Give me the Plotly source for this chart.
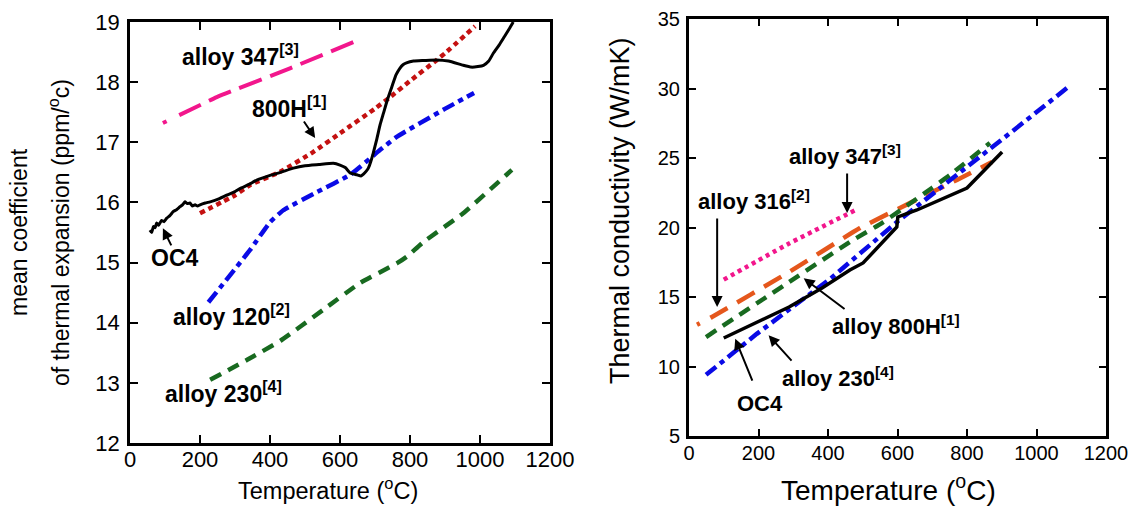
import plotly.graph_objects as go

W, H = 1135, 506
FONT = "Arial, Liberation Sans, sans-serif"

# ---- Mean coefficient of thermal expansion (ppm/°C) vs temperature ----
oc4_cte_t = [57, 62, 67, 72, 76, 82, 90, 97, 105, 114, 124, 133, 143, 150, 157, 164, 171, 178,
             186, 193, 200, 215, 229, 250, 276, 300, 314, 340, 362, 400, 430, 467, 500, 540,
             581, 600, 615, 629, 648, 660, 667, 675, 681, 688, 695, 705, 715, 724, 735, 748,
             760, 771, 780, 790, 810, 840, 876, 910, 952, 975, 994, 1010, 1025, 1038, 1055,
             1070, 1085, 1095]
oc4_cte = [15.54, 15.50, 15.60, 15.58, 15.66, 15.62, 15.70, 15.68, 15.74, 15.78, 15.85, 15.88,
           15.93, 15.96, 16.01, 15.98, 15.99, 15.94, 15.96, 15.94, 15.96, 15.99, 16.01, 16.05,
           16.12, 16.18, 16.23, 16.30, 16.37, 16.45, 16.50, 16.57, 16.61, 16.63, 16.65, 16.62,
           16.58, 16.49, 16.46, 16.44, 16.47, 16.52, 16.57, 16.68, 16.82, 17.05, 17.30, 17.48,
           17.70, 17.92, 18.12, 18.23, 18.29, 18.32, 18.35, 18.36, 18.37, 18.35, 18.28, 18.25,
           18.26, 18.28, 18.35, 18.48, 18.62, 18.76, 18.90, 19.00]

a800h_cte_t = [200, 300, 343, 429, 524, 600, 700, 743, 800, 877, 900, 986]
a800h_cte = [15.82, 16.12, 16.29, 16.51, 16.84, 17.15, 17.56, 17.75, 18.02, 18.37, 18.48, 18.93]

a347_cte_t = [94, 248, 457, 640]
a347_cte = [17.32, 17.75, 18.23, 18.67]

a120_cte_t = [224, 343, 400, 438, 533, 629, 714, 762, 895, 983]
a120_cte = [14.34, 15.21, 15.67, 15.87, 16.17, 16.46, 16.87, 17.09, 17.54, 17.82]

a230_cte_t = [229, 340, 430, 551, 657, 763, 791, 838, 952, 1091]
a230_cte = [13.05, 13.40, 13.70, 14.21, 14.66, 14.99, 15.10, 15.34, 15.82, 16.54]

# ---- Thermal conductivity (W/mK) vs temperature ----
oc4_k_t = [100, 193, 288, 383, 463, 501, 555, 598, 601, 656, 800, 901]
oc4_k = [12.05, 13.15, 14.28, 15.65, 16.94, 17.45, 18.88, 20.04, 20.76, 21.26, 22.84, 25.43]

a347_k_t = [100, 288, 483]
a347_k = [16.25, 18.85, 21.30]

a316_k_t = [23, 66, 288, 492, 665, 771, 872]
a316_k = [13.00, 13.56, 16.80, 19.96, 22.12, 23.42, 24.71]

a800h_k_t = [49, 288, 472, 555, 699, 751, 866]
a800h_k = [12.12, 16.08, 19.10, 20.32, 22.84, 23.78, 26.08]

a230_k_t = [49, 195, 406, 601, 904, 1088]
a230_k = [9.40, 12.35, 16.30, 20.45, 26.40, 30.04]

x_ticks = [0, 200, 400, 600, 800, 1000, 1200]
cte_ticks = [12, 13, 14, 15, 16, 17, 18, 19]
k_ticks = [5, 10, 15, 20, 25, 30, 35]

PINK = "#F2168C"
RED = "#C41010"
BLUE = "#0A0AE6"
GREEN = "#186A20"
ORANGE = "#E5571C"
BLACK = "#000000"


def dash_after_dot(dot, gap0, dash, gap, n):
    # a short lead-in dot followed by n long dashes
    return ",".join([f"{dot}px", f"{gap0}px"] + [f"{dash}px,{gap}px"] * n)


fig = go.Figure()


def add(xs, ys, color, dash, width, ax, shape="spline"):
    fig.add_trace(go.Scatter(
        x=xs, y=ys, mode="lines", xaxis="x" if ax == 1 else "x2",
        yaxis="y" if ax == 1 else "y2",
        line=dict(color=color, dash=dash, width=width, shape=shape,
                  **({"smoothing": 0.4} if shape == "spline" else {})),
        showlegend=False, hoverinfo="skip"))


# left panel
add(a347_cte_t, a347_cte, PINK, dash_after_dot(4, 14, 24, 9, 12), 4, 1)
add(a800h_cte_t, a800h_cte, RED, "5px,4px", 4.5, 1)
add(a120_cte_t, a120_cte, BLUE, "13px,5px,5px,5px", 4.5, 1)
add(a230_cte_t, a230_cte, GREEN, "12px,8px", 4.5, 1)
add(oc4_cte_t, oc4_cte, BLACK, "solid", 3, 1)

# right panel
add(a347_k_t, a347_k, PINK, "4px,4px", 4.5, 2)
add(a316_k_t, a316_k, ORANGE, dash_after_dot(3, 12, 20, 11, 14), 4.5, 2)
add(a800h_k_t, a800h_k, GREEN, "12px,8px", 4.5, 2)
add(a230_k_t, a230_k, BLUE, "13px,5px,5px,5px", 4.5, 2, "linear")
add(oc4_k_t, oc4_k, BLACK, "solid", 3.5, 2, "linear")


def px_x(p):
    return p / W


def px_y(p):
    return 1 - p / H


axis_common = dict(
    showline=True, linecolor="black", mirror="ticks", ticks="inside",
    tickcolor="black", showgrid=False, zeroline=False, automargin=False,
)

fig.update_layout(
    width=W, height=H,
    margin=dict(l=0, r=0, t=0, b=0, pad=0),
    paper_bgcolor="white", plot_bgcolor="white",
    font=dict(family=FONT, color="black"),
    xaxis=dict(domain=[px_x(130), px_x(550)], range=[0, 1200], tickvals=x_ticks,
               ticklen=8, tickwidth=2, linewidth=2.5, anchor="y",
               tickfont=dict(size=22, family=FONT), ticklabelstandoff=-5, **axis_common),
    yaxis=dict(domain=[px_y(443), px_y(22)], range=[12, 19], tickvals=cte_ticks,
               ticklen=8, tickwidth=2, linewidth=2.5, anchor="x",
               tickfont=dict(size=22, family=FONT), ticklabelstandoff=3, **axis_common),
    xaxis2=dict(domain=[px_x(689), px_x(1106)], range=[0, 1200], tickvals=x_ticks,
                ticklen=7, tickwidth=2, linewidth=3, anchor="y2",
                tickfont=dict(size=20, family=FONT), ticklabelstandoff=-3, **axis_common),
    yaxis2=dict(domain=[px_y(436), px_y(19)], range=[5, 35], tickvals=k_ticks,
                ticklen=7, tickwidth=2, linewidth=3, anchor="x2",
                tickfont=dict(size=20, family=FONT), ticklabelstandoff=2, **axis_common),
)

ann = []


def label(text, x, y, ax, size):
    ann.append(dict(text="<b>" + text + "</b>", x=x, y=y,
                    xref="x" if ax == 1 else "x2", yref="y" if ax == 1 else "y2",
                    showarrow=False, font=dict(size=size, family=FONT, color="black"),
                    xanchor="center", yanchor="middle"))


def arrow(x0, y0, x1, y1, ax):
    xr = "x" if ax == 1 else "x2"
    yr = "y" if ax == 1 else "y2"
    ann.append(dict(text="", x=x1, y=y1, ax=x0, ay=y0, xref=xr, yref=yr,
                    axref=xr, ayref=yr, showarrow=True, arrowhead=2, arrowsize=1.1,
                    arrowwidth=2, arrowcolor="black", font=dict(size=10)))


def title(text, xp, yp, size, angle=0):
    ann.append(dict(text=text, x=px_x(xp), y=px_y(yp), xref="paper", yref="paper",
                    xanchor="center", yanchor="middle", textangle=angle,
                    showarrow=False, font=dict(size=size, family=FONT)))


# left panel labels
label("alloy 347<sup>[3]</sup>", 317, 18.45, 1, 23)
label("800H<sup>[1]</sup>", 457, 17.59, 1, 23)
arrow(494, 17.37, 529, 17.07, 1)
label("OC4", 129, 15.08, 1, 23)
arrow(120, 15.26, 94, 15.57, 1)
label("alloy 120<sup>[2]</sup>", 289, 14.13, 1, 23)
label("alloy 230<sup>[4]</sup>", 267, 12.85, 1, 23)

# right panel labels
label("alloy 347<sup>[3]</sup>", 449, 25.22, 2, 22)
arrow(455, 24.0, 455, 21.04, 2)
label("alloy 316<sup>[2]</sup>", 187, 21.98, 2, 22)
arrow(81, 20.76, 81, 14.28, 2)
label("alloy 800H<sup>[1]</sup>", 597, 12.99, 2, 22)
arrow(452, 14.06, 330, 16.35, 2)
label("alloy 230<sup>[4]</sup>", 428, 9.24, 2, 22)
arrow(299, 10.32, 229, 12.25, 2)
label("OC4", 204, 7.37, 2, 22)
arrow(184, 8.88, 133, 12.0, 2)

# axis titles
title("mean coefficient", 19, 232, 23, -90)
title("of thermal expansion (ppm/<sup>o</sup>c)", 59, 233, 23, -90)
title("Temperature (<sup>o</sup>C)", 328, 489, 23.5)
title("Thermal conductivity (W/mK)", 620, 211, 27, -90)
title("Temperature (<sup>o</sup>C)", 888, 488, 28)

fig.update_layout(annotations=ann)
fig.write_html("out.html")
